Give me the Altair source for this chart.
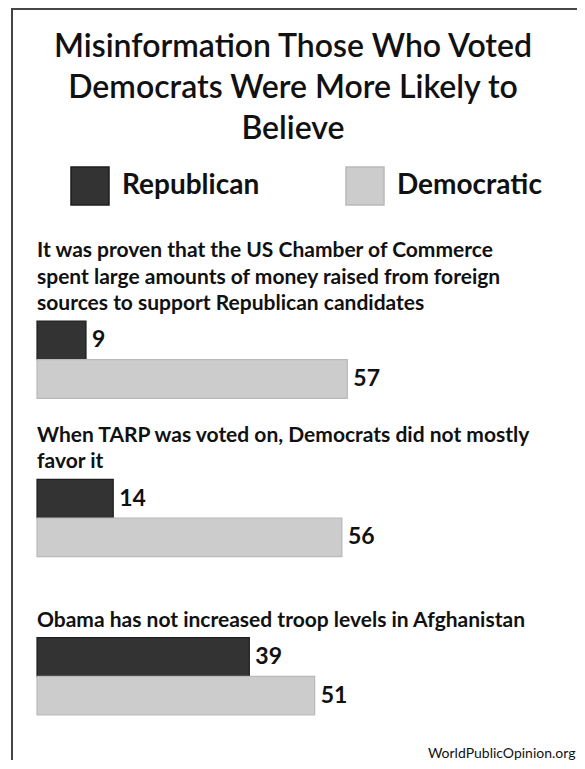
import altair as alt
import pandas as pd

# ---- data ----
question_ids = ["q1", "q2", "q3"]
question_text = [
    "It was proven that the US Chamber of Commerce\nspent large amounts of money raised from foreign\nsources to support Republican candidates",
    "When TARP was voted on, Democrats did not mostly\nfavor it",
    "Obama has not increased troop levels in Afghanistan",
]
parties = ["Republican", "Democratic"]
republican = [9, 14, 39]
democratic = [57, 56, 51]

fill_colors = ["#333333", "#cccccc"]
stroke_colors = ["#1e1e1e", "#b9b9b9"]

rows = []
for q, r, d in zip(question_ids, republican, democratic):
    rows.append({"qid": q, "party": parties[0], "value": r})
    rows.append({"qid": q, "party": parties[1], "value": d})
bars_df = pd.DataFrame(rows)
q_df = pd.DataFrame({
    "qid": question_ids,
    "text": question_text,
    "nlines": [t.count("\n") + 1 for t in question_text],
})

FONT = "Lato"
LINE_H = 26.5

y_scale = alt.Scale(domain=question_ids, paddingInner=0.511, paddingOuter=0)
x_scale = alt.Scale(domain=[0, 90], nice=False, zero=True)
x_axis = alt.Axis(
    title="WorldPublicOpinion.org", labels=False, ticks=False, domain=False, grid=False,
    titleFont=FONT, titleFontSize=14, titleFontWeight="normal", titleColor="#111111",
    titleAlign="right", titleBaseline="alphabetic", titleX=538, titleY=42,
)
off_scale = alt.Scale(domain=parties, paddingInner=0, paddingOuter=0)
legend = alt.Legend(
    title=None, orient="none", legendX=33, legendY=-155, direction="horizontal",
    symbolType="square", symbolSize=1444, symbolStrokeWidth=1.5, symbolOpacity=1,
    labelFont=FONT, labelFontSize=28, labelFontWeight="bold", labelColor="#111111",
    labelOffset=12, columnPadding=83, padding=0, labelLimit=300,
)

bars = alt.Chart(bars_df).mark_bar(strokeWidth=1.2).encode(
    x=alt.X("value:Q", scale=x_scale, axis=x_axis),
    y=alt.Y("qid:N", scale=y_scale, axis=None, sort=question_ids),
    yOffset=alt.YOffset("party:N", scale=off_scale, sort=parties),
    color=alt.Color("party:N", scale=alt.Scale(domain=parties, range=fill_colors), legend=legend),
    stroke=alt.Stroke("party:N", scale=alt.Scale(domain=parties, range=stroke_colors), legend=legend),
)

labels = alt.Chart(bars_df).mark_text(
    align="left", baseline="middle", dx=6, font=FONT, fontSize=23, fontWeight="bold", color="#111111"
).encode(
    x=alt.X("value:Q", scale=x_scale, axis=x_axis),
    y=alt.Y("qid:N", scale=y_scale, axis=None, sort=question_ids),
    yOffset=alt.YOffset("party:N", scale=off_scale, sort=parties),
    text=alt.Text("value:Q"),
)

qtext = alt.Chart(q_df).mark_text(
    align="left", baseline="alphabetic", lineBreak="\n", lineHeight=LINE_H,
    dy=alt.expr(f"-11 - {LINE_H} * (datum.nlines - 1)"),
    font=FONT, fontSize=21, fontWeight="bold", color="#111111",
).encode(
    x=alt.value(0),
    y=alt.Y("qid:N", scale=y_scale, axis=None, sort=question_ids, bandPosition=0),
    text="text:N",
)

left_border = alt.Chart(q_df).mark_rule(color="#444444", strokeWidth=2).encode(
    x=alt.value(-25), y=alt.value(-313), y2=alt.value(445)
)
top_border = alt.Chart(q_df).mark_rule(color="#444444", strokeWidth=1.5).encode(
    x=alt.value(-26), x2=alt.value(545), y=alt.value(-312)
)

chart = alt.layer(left_border, top_border, bars, labels, qtext).properties(
    width=490,
    height=394,
    padding={"left": 29, "top": 313, "right": 50, "bottom": 45},
    autosize=alt.AutoSizeParams(type="none"),
    background="white",
    title=alt.TitleParams(
        text=["Misinformation Those Who Voted", "Democrats Were More Likely to", "Believe"],
        font=FONT, fontSize=32, fontWeight=600, color="#111111",
        anchor="middle", frame="group", lineHeight=41, offset=-139, dx=11,
    ),
).configure_view(stroke=None)

chart.save("out.html", embed_options={"renderer": "svg", "actions": False})
